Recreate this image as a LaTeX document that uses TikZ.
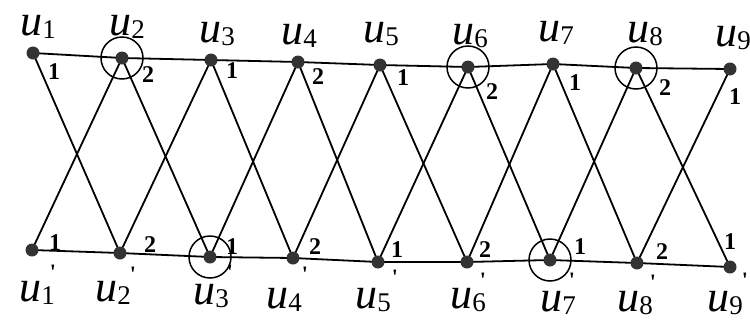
\documentclass[tikz,border=0pt]{standalone}
\usepackage{fontspec}
\setmainfont{Liberation Serif}
\usetikzlibrary{backgrounds}
\definecolor{dotgray}{HTML}{333333}
\newcommand\ulab[1]{\fontsize{44}{44}\selectfont\textit{u}\raisebox{-3pt}{\fontsize{27}{27}\selectfont #1}}
\tikzset{
  vdot/.style={circle,fill=dotgray,draw=none,minimum size=13pt,inner sep=0pt},
  ring/.style={circle,draw=black,line width=1.5pt,minimum size=42pt,inner sep=0pt},
  edge/.style={draw=black,line width=1.8pt},
  ulabel/.style={inner sep=0pt},
  numlab/.style={inner sep=0pt,font=\fontsize{24}{24}\selectfont\bfseries},
  tick/.style={inner sep=0pt,font=\fontsize{22}{22}\selectfont\bfseries}
}
\begin{document}
\begin{tikzpicture}[x=1pt,y=-1pt]
\useasboundingbox (0,0) rectangle (750,322);
% vertices
\foreach \i/\x/\y in {1/33/53,2/122/58,3/211/60,4/298/62,5/380/65,6/468/67,7/553/64,8/636/68,9/730/69}
  \node[vdot] (t\i) at (\x,\y) {};
\foreach \i/\x/\y in {1/32/250,2/120/253,3/210/257,4/293/258,5/378/262,6/467/262,7/550/260,8/637/263,9/730/267}
  \node[vdot] (b\i) at (\x,\y) {};
% edges
\begin{scope}[on background layer]
  \draw[edge] (t1.center) -- (t2.center) -- (t3.center) -- (t4.center) -- (t5.center) -- (t6.center) -- (t7.center) -- (t8.center) -- (t9.center);
  \draw[edge] (b1.center) -- (b2.center) -- (b3.center) -- (b4.center) -- (b5.center) -- (b6.center) -- (b7.center) -- (b8.center) -- (b9.center);
  \foreach \i/\j in {1/2,2/3,3/4,4/5,5/6,6/7,7/8,8/9} {
    \draw[edge] (t\i.center) -- (b\j.center);
    \draw[edge] (b\i.center) -- (t\j.center);
  }
\end{scope}
% rings
\node[ring] (r1) at (t2) {};
\node[ring] (r2) at (t6) {};
\node[ring] (r3) at (t8) {};
\node[ring] (r4) at (b3) {};
\node[ring] (r5) at (b7) {};
% vertex labels
\foreach \i/\x/\y in {1/38/27,2/127/27,3/217/34,4/299/36,5/381/34,6/470/36,7/556/33,8/645/34,9/733/38}
  \node[ulabel] (lt\i) at (\x,\y) {\ulab{\i}};
\foreach \i/\x/\y in {1/37/293,2/113/293,3/211/296,4/284/300,5/373/300,6/468/300,7/558/303,8/635/303,9/725/303}
  \node[ulabel] (lb\i) at (\x,\y) {\ulab{\i}};
% port numbers
\foreach \i/\x/\y/\n in {1/54/72/1,2/148/75/2,3/232/71/1,4/318/77/2,5/403/78/1,6/492/92/2,7/575/83/1,8/665/88/2,9/735/97/1}
  \node[numlab] (nt\i) at (\x,\y) {\n};
\foreach \i/\x/\y/\n in {1/55/243/1,2/150/245/2,3/232/247/1,4/315/247/2,5/397/250/1,6/485/250/2,7/580/247/1,8/662/252/2,9/730/242/1}
  \node[numlab] (nb\i) at (\x,\y) {\n};
% small marks
\foreach \i/\x/\y in {1/53/272,2/133/274,3/230/272,4/305/274,5/395/277,6/483/280,7/572/280,8/653/282,9/745/280}
  \node[tick] (k\i) at (\x,\y) {\textquotesingle};
\end{tikzpicture}
\end{document}
